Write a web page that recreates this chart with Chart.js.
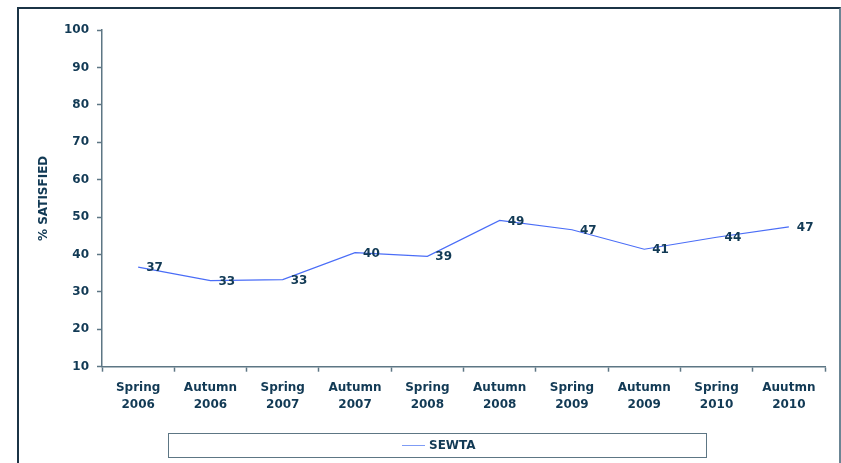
<!DOCTYPE html>
<html>
<head>
<meta charset="utf-8">
<script src="https://cdn.jsdelivr.net/npm/chart.js@4"></script>
<style>
  body { margin: 0; background: #fff; }
  #wrap { position: relative; width: 841px; height: 463px; overflow: hidden; }
  #frame {
    position: absolute; left: 17px; top: 7px; width: 824px; height: 470px;
    border: 2px solid #1b3446; border-right-color: #6b8594; box-sizing: border-box;
  }
  #chart-box { position: absolute; left: 0; top: 0; width: 841px; height: 463px; }
  #legend {
    position: absolute; left: 168px; top: 433px; width: 539px; height: 25px;
    border: 1.5px solid #5d7684; box-sizing: border-box;
    font: bold 12px "DejaVu Sans", Verdana, sans-serif; color: #123a55;
  }
  #legend .swatch { position: absolute; left: 233px; top: 11px; width: 23px; height: 0; border-top: 1.5px solid #7f9cf5; }
  #legend .txt { position: absolute; left: 260px; top: 4px; }
</style>
</head>
<body>
<div id="wrap">
  <div id="frame"></div>
  <div id="chart-box"><canvas id="lineChart"></canvas></div>
  <div id="legend"><span class="swatch"></span><span class="txt">SEWTA</span></div>
</div>
<script>
//Chart data
var categories = [
  ["Spring", "2006"], ["Autumn", "2006"], ["Spring", "2007"], ["Autumn", "2007"],
  ["Spring", "2008"], ["Autumn", "2008"], ["Spring", "2009"], ["Autumn", "2009"],
  ["Spring", "2010"], ["Auutmn", "2010"]
];
var sewta = [36.6, 33.0, 33.3, 40.5, 39.5, 49.1, 46.6, 41.4, 44.6, 47.4];
var pointLabels = ["37", "33", "33", "40", "39", "49", "47", "41", "44", "47"];
var yTicks = [10, 100, 10]; // min, max, step

var textColor = "#123a55";
var axisColor = "#5d7684";
var fontFamily = "'DejaVu Sans', Verdana, sans-serif";

//Draws the value next to each point
var valueLabels = {
  id: "valueLabels",
  afterDatasetsDraw: function(chart) {
    var ctx = chart.ctx;
    var meta = chart.getDatasetMeta(0);
    ctx.save();
    ctx.font = "bold 12px " + fontFamily;
    ctx.fillStyle = textColor;
    ctx.textAlign = "left";
    ctx.textBaseline = "middle";
    meta.data.forEach(function(pt, i) {
      ctx.fillText(pointLabels[i], pt.x + 8, pt.y + 1);
    });
    ctx.restore();
  }
};

var ctx = document.getElementById("lineChart").getContext("2d");
var chart = new Chart(ctx, {
  type: "line",
  data: {
    labels: categories,
    datasets: [
      {
        label: "SEWTA",
        data: sewta,
        borderColor: "#4a6df7",
        borderWidth: 1.2,
        pointRadius: 0,
        tension: 0,
        fill: false,
      },
    ],
  },
  options: {
    responsive: true,
    maintainAspectRatio: false,
    animation: false,
    layout: { padding: { left: 33, right: 16, top: 30, bottom: 0 } },
    plugins: {
      legend: { display: false },
      tooltip: { enabled: false },
    },
    scales: {
      x: {
        offset: true,
        grid: { offset: true, drawOnChartArea: false, color: axisColor, tickLength: 5, tickWidth: 1.5 },
        border: { color: axisColor, width: 1.5 },
        ticks: {
          color: textColor,
          font: { family: fontFamily, size: 12, weight: "bold", lineHeight: 1.4 },
          padding: 8,
          maxRotation: 0,
          autoSkip: false,
        },
        afterFit: function(scale) { scale.height = 96.3; },
      },
      y: {
        min: yTicks[0],
        max: yTicks[1],
        grid: { drawOnChartArea: false, color: axisColor, tickLength: 5, tickWidth: 1.5 },
        border: { color: axisColor, width: 1.5 },
        ticks: {
          stepSize: yTicks[2],
          color: textColor,
          font: { family: fontFamily, size: 12, weight: "bold" },
          padding: 8,
        },
        title: {
          display: true,
          text: "% SATISFIED",
          color: textColor,
          font: { family: fontFamily, size: 12, weight: "bold" },
          padding: { top: 4, bottom: 4 },
        },
        afterFit: function(scale) { scale.width = 69; },
      },
    },
  },
  plugins: [valueLabels],
});
</script>
</body>
</html>
